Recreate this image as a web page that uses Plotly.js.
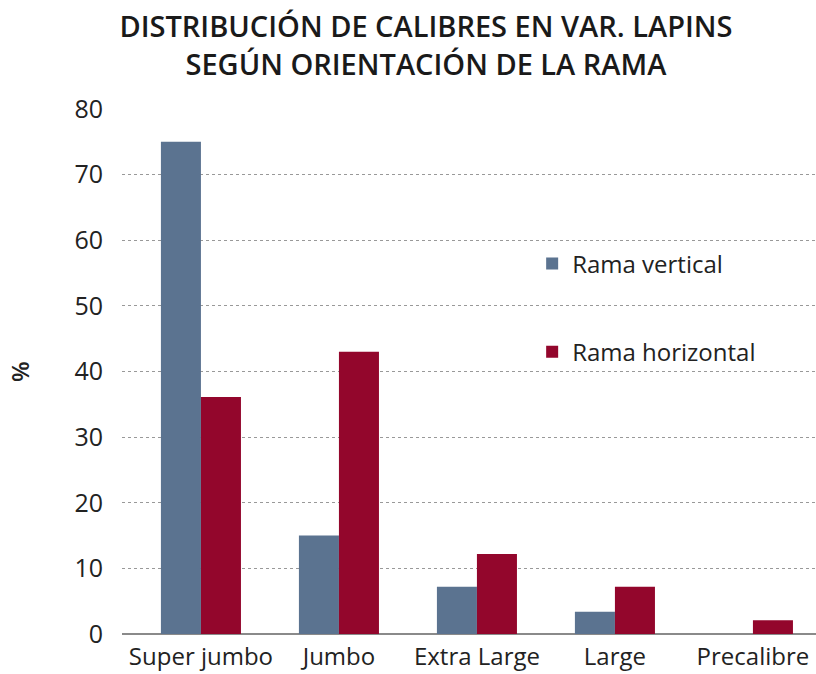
<!DOCTYPE html>
<html><head><meta charset="utf-8">
<script src="https://cdn.plot.ly/plotly-3.0.1.min.js"></script>
<style>html,body{margin:0;padding:0;background:#fff;}#chart{width:816px;height:674px;}</style>
</head><body><div id="chart"></div>
<script>
const categories = ["Super jumbo", "Jumbo", "Extra Large", "Large", "Precalibre"];
const ramaVertical = [75, 15, 7.2, 3.4, 0];
const ramaHorizontal = [36.1, 43, 12.2, 7.2, 2.1];
const yTicks = [0, 10, 20, 30, 40, 50, 60, 70, 80];

const FONT = "'Open Sans', 'Noto Sans', sans-serif";
const traces = [
  {type:'bar', name:'Rama vertical', x:categories, y:ramaVertical,
   marker:{color:'#5b7390'}, legend:'legend', hoverinfo:'skip'},
  {type:'bar', name:'Rama horizontal', x:categories, y:ramaHorizontal,
   marker:{color:'#93062c'}, legend:'legend2', hoverinfo:'skip'}
];
const legendFont = {family:FONT, size:24, color:'#222'};
const titleFont = {family:FONT, size:29, color:'#1a1a1a', weight:600};
const layout = {
  width:816, height:674,
  margin:{l:122, r:0, t:109, b:40},
  paper_bgcolor:'#fff', plot_bgcolor:'#fff',
  font:{family:FONT, color:'#222', size:22},
  title:{text:'DISTRIBUCIÓN DE CALIBRES EN VAR. LAPINS<br>SEGÚN ORIENTACIÓN DE LA RAMA',
    font:titleFont, x:0.522, xref:'container', xanchor:'center',
    y:1 - 37/674, yref:'container', yanchor:'middle'},
  barmode:'group', bargap:0.42, bargroupgap:0,
  xaxis:{type:'category', range:[-0.572, 4.457], showgrid:false, zeroline:false,
    showline:false, ticks:'', tickfont:{family:FONT, size:24, color:'#222'}, ticklabelstandoff:6},
  yaxis:{range:[0,80], tickvals:yTicks, showgrid:true, gridcolor:'#999', griddash:'dot', gridwidth:1,
    zeroline:true, zerolinecolor:'#8a8a8a', zerolinewidth:2, showline:false, ticks:'',
    tickfont:{family:FONT, size:25, color:'#222'}, ticklabelstandoff:18,
    title:{text:'%', font:{family:FONT, size:24, color:'#222', weight:600}, standoff:38}},
  legend:{x:0.591, y:0.705, xanchor:'left', yanchor:'middle', xref:'paper', yref:'paper',
    font:legendFont, bgcolor:'rgba(0,0,0,0)', itemwidth:30},
  legend2:{x:0.591, y:0.537, xanchor:'left', yanchor:'middle', xref:'paper', yref:'paper',
    font:legendFont, bgcolor:'rgba(0,0,0,0)', itemwidth:30},
  showlegend:true
};
Plotly.newPlot('chart', traces, layout, {staticPlot:true, displayModeBar:false});
</script></body></html>
